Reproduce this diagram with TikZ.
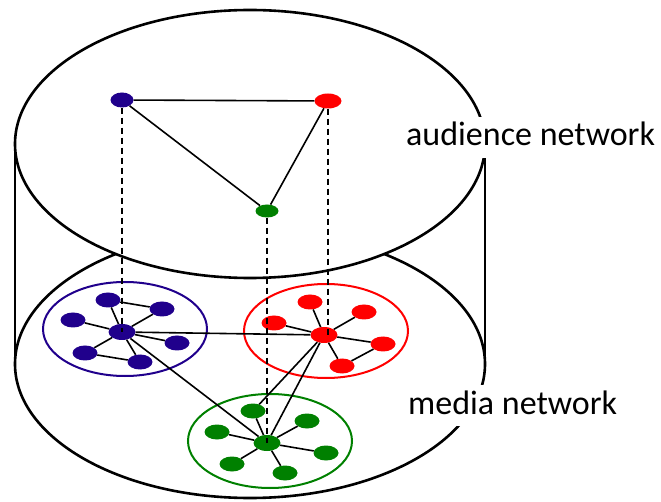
\documentclass[tikz,border=0pt]{standalone}
\usepackage{fontspec}
\setmainfont{Carlito}
\usetikzlibrary{shapes.geometric}
\definecolor{netblue}{RGB}{32,0,140}
\definecolor{netred}{RGB}{255,0,0}
\definecolor{netgreen}{RGB}{0,128,0}
\begin{document}
\begin{tikzpicture}[x=1pt,y=-1pt,
  rim/.style={line width=2.6pt},
  vertex/.style={ellipse, inner sep=0pt, minimum width=25pt, minimum height=15pt},
  hub/.style={vertex, minimum width=27pt, minimum height=16pt},
  link/.style={line width=1.6pt},
  proj/.style={line width=2pt, dash pattern=on 6.5pt off 3.5pt},
  group/.style={line width=2pt},
  layer/.style={font=\fontsize{34}{40}\selectfont, fill=white,
    anchor=base west, inner xsep=3pt, inner ysep=5pt, text depth=7pt}]
\useasboundingbox (0,0) rectangle (661,502);

% cylinder: lower rim hidden inside the upper disc
\begin{scope}[even odd rule]
  \clip (-10,-10) rectangle (671,512)
    (250,144) ellipse [x radius=235pt, y radius=134pt];
  \draw[rim] (250,364) ellipse [x radius=235pt, y radius=134pt];
\end{scope}
\draw[rim] (250,144) ellipse [x radius=235pt, y radius=134pt];
\draw[rim] (15,144) -- (15,364);
\draw[rim] (485,144) -- (485,364);

\node[layer] (lbltop) at (403,146) {audience network};
\node[layer] (lblbot) at (405,414) {media network};

% community outlines
\draw[group, netblue] (125,329) ellipse [x radius=82pt, y radius=47pt];
\draw[group, netred] (326,331) ellipse [x radius=82pt, y radius=47pt];
\draw[group, netgreen] (270,441) ellipse [x radius=82pt, y radius=47pt];

% audience network
\node[vertex, fill=netblue, minimum width=23pt, minimum height=15pt] (ab) at (122,100) {};
\node[vertex, fill=netred, minimum width=27pt, minimum height=15pt] (ar) at (328,101) {};
\node[vertex, fill=netgreen, minimum width=23pt, minimum height=13pt] (ag) at (267,211) {};
\draw[link] (ab) -- (ar);
\draw[link] (ab) -- (ag);
\draw[link] (ar) -- (ag);

% blue community
\node[hub, fill=netblue] (bc) at (122,332) {};
\node[vertex, fill=netblue] (b1) at (108,300) {};
\node[vertex, fill=netblue] (b2) at (162,309) {};
\node[vertex, fill=netblue] (b3) at (73,320) {};
\node[vertex, fill=netblue] (b4) at (177,343) {};
\node[vertex, fill=netblue] (b5) at (85,353) {};
\node[vertex, fill=netblue] (b6) at (140,362) {};
\foreach \n in {b1,b2,b3,b4,b5,b6} \draw[link] (bc) -- (\n);
\draw[link] (b1) -- (b2);
\draw[link] (b5) -- (b6);

% red community
\node[hub, fill=netred] (rc) at (324,335) {};
\node[vertex, fill=netred] (r1) at (310,302) {};
\node[vertex, fill=netred] (r2) at (364,312) {};
\node[vertex, fill=netred] (r3) at (274,323) {};
\node[vertex, fill=netred] (r4) at (383,344) {};
\node[vertex, fill=netred] (r5) at (342,366) {};
\foreach \n in {r1,r2,r3,r4,r5} \draw[link] (rc) -- (\n);
\draw[link] (r4) -- (r5);

% green community
\node[hub, fill=netgreen] (gc) at (267,443) {};
\node[vertex, fill=netgreen] (g1) at (253,411) {};
\node[vertex, fill=netgreen] (g2) at (307,421) {};
\node[vertex, fill=netgreen] (g3) at (217,432) {};
\node[vertex, fill=netgreen] (g4) at (326,453) {};
\node[vertex, fill=netgreen] (g5) at (232,464) {};
\node[vertex, fill=netgreen] (g6) at (285,473) {};
\foreach \n in {g1,g2,g3,g4,g5,g6} \draw[link] (gc) -- (\n);

% links between communities
\draw[link] (bc) -- (rc);
\draw[link] (bc) -- (gc);
\draw[link] (rc) -- (gc);
\draw[link] (rc) -- (g1);

% projections from audience to media layer
\draw[proj] (ab) -- (bc.center);
\draw[proj] (ar) -- (ar |- rc.center);
\draw[proj] (ag) -- (gc.center);
\end{tikzpicture}
\end{document}
